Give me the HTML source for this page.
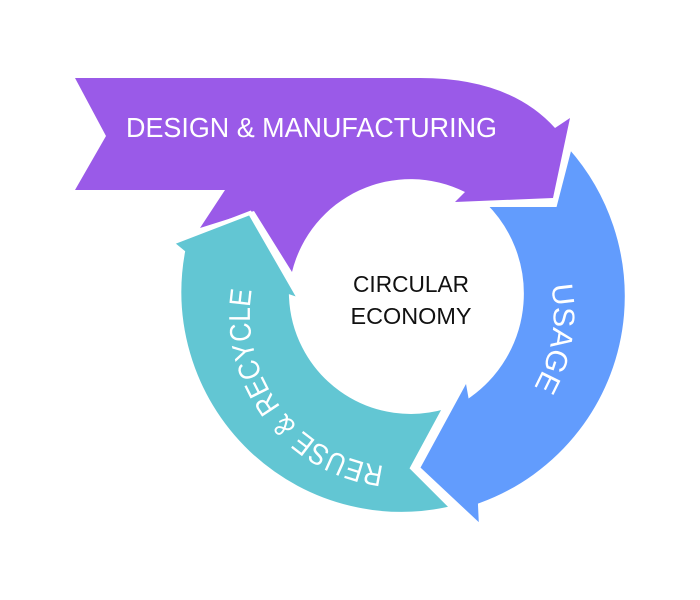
<!DOCTYPE html>
<html><head><meta charset="utf-8"><style>html,body{margin:0;padding:0;background:#fff}svg{display:block}</style></head>
<body>
<svg width="700" height="600" viewBox="0 0 700 600" xmlns="http://www.w3.org/2000/svg">
<defs>
<path id="tp" d="M384,466 A152 152 0 0 1 258,266"/>
<path id="up" d="M551,285 A148 148 0 0 1 527,398"/>
</defs>
<path d="M75,78 L420,78 Q510,78 555,128 L570,118 L553,198 L455,202 L465,192 A122 122 0 0 0 292,272 L254,211 L200,228 L225,190 L75,190 L106,136 Z" fill="#9a5ae8"/>
<path d="M183,252 L172,243 L250,213 L300,300 L291,297 A120 120 0 0 0 445,407 L412,468 L452,508 A222 222 0 0 1 183,252 Z" fill="#62c6d3" stroke="#fff" stroke-width="4" stroke-linejoin="miter"/>
<path d="M570,147 A225 225 0 0 1 626,315 A222 222 0 0 1 480,505 L481,527 L418,468 L467,378 L470,395 A125 125 0 0 0 485,205 L555,205 Z" fill="#629cfd" stroke="#fff" stroke-width="4"/>
<g font-family="Liberation Sans, sans-serif" fill="#fff">
<text x="126" y="137" font-size="28" textLength="371" lengthAdjust="spacingAndGlyphs">DESIGN &amp; MANUFACTURING</text>
<text font-size="30"><textPath href="#tp" textLength="246" lengthAdjust="spacingAndGlyphs">REUSE &amp; RECYCLE</textPath></text>
<text font-size="30"><textPath href="#up" textLength="106" lengthAdjust="spacingAndGlyphs">USAGE</textPath></text>
</g>
<g font-family="Liberation Sans, sans-serif" fill="#111" font-size="23" text-anchor="middle">
<text x="411" y="292" textLength="116" lengthAdjust="spacingAndGlyphs">CIRCULAR</text>
<text x="411" y="324" textLength="121" lengthAdjust="spacingAndGlyphs">ECONOMY</text>
</g>
</svg>
</body></html>
